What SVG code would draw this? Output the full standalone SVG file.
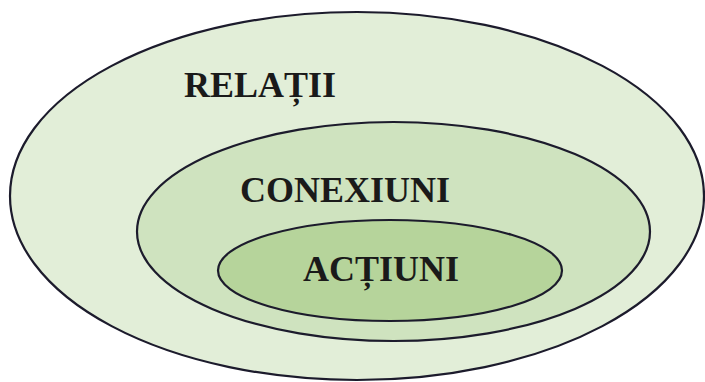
<svg xmlns="http://www.w3.org/2000/svg" width="705" height="382" viewBox="0 0 705 382">
  <style>
    .ring { stroke: #1c1b2c; stroke-width: 2.2; }
    .label { font-family: "Liberation Serif", "Times New Roman", serif; font-weight: bold; font-size: 36px; fill: #1a1a1a; }
  </style>
  <rect width="705" height="382" fill="#ffffff"/>
  <g id="relatii">
    <ellipse class="ring" cx="357" cy="196" rx="347" ry="184" fill="#e2eed8"/>
    <text class="label" x="184" y="97">RELAȚII</text>
  </g>
  <g id="conexiuni">
    <ellipse class="ring" cx="393.5" cy="231.5" rx="256.5" ry="109.5" fill="#cfe3bf"/>
    <text class="label" x="240" y="202">CONEXIUNI</text>
  </g>
  <g id="actiuni">
    <ellipse class="ring" cx="390" cy="270.5" rx="172" ry="50.5" fill="#b6d49b"/>
    <text class="label" x="303" y="281">ACȚIUNI</text>
  </g>
  <g id="connectors"/>
</svg>
